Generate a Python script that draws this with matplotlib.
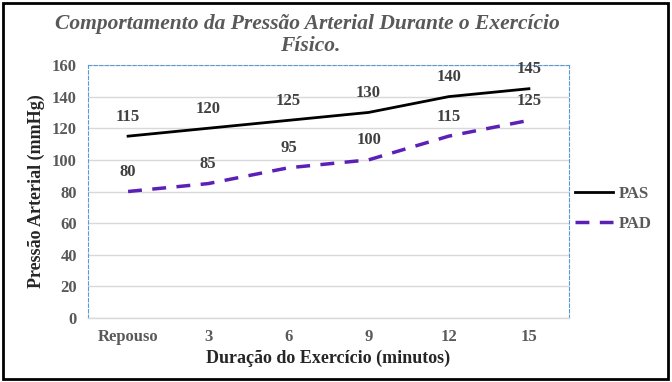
import matplotlib
matplotlib.use("Agg")
import matplotlib.pyplot as plt
from matplotlib.patches import Rectangle

categories = ["Repouso", "3", "6", "9", "12", "15"]
pas = [115, 120, 125, 130, 140, 145]
pad = [80, 85, 95, 100, 115, 125]
yticks = [0, 20, 40, 60, 80, 100, 120, 140, 160]

serif = ["Liberation Serif", "DejaVu Serif"]
plt.rcParams['font.family'] = serif

fig = plt.figure(figsize=(6.72, 3.82), dpi=100)
ax = fig.add_axes([88/672, 1-318/382, (569-88)/672, (318-65)/382])

x = list(range(len(categories)))
ax.plot(x, pas, color="black", lw=2, label="PAS", zorder=3)
ax.plot(x, pad, color="#5B21B6", lw=2.5, ls=(0, (4, 3)), label="PAD", zorder=3)

for xi, v in zip(x, pas):
    ax.annotate(str(v), (xi, v), xytext=(0, 14), textcoords="offset points",
                ha="center", va="center", fontsize=12, fontweight="bold", color="#404040")
for xi, v in zip(x, pad):
    ax.annotate(str(v), (xi, v), xytext=(0, 14), textcoords="offset points",
                ha="center", va="center", fontsize=12, fontweight="bold", color="#404040")

ax.set_xlim(-0.5, len(categories) - 0.5)
ax.set_ylim(0, 160)
ax.set_yticks(yticks)
ax.set_xticks(x)
ax.set_xticklabels(categories)
ax.grid(axis="y", color="#D9D9D9", lw=1)
ax.set_axisbelow(True)
ax.tick_params(length=0, labelsize=12, colors="#595959", pad=8)
for lab in ax.get_xticklabels() + ax.get_yticklabels():
    lab.set_fontweight("bold")

for side in ["top", "left", "right"]:
    ax.spines[side].set_color("#5B9BD5")
    ax.spines[side].set_linestyle((0, (3, 2)))
    ax.spines[side].set_linewidth(0.8)
ax.spines["bottom"].set_color("#D9D9D9")
ax.spines["bottom"].set_linewidth(1)

ax.set_xlabel("Duração do Exercício (minutos)", fontsize=13, fontweight="bold", color="#262626", labelpad=3)
ax.set_ylabel("Pressão Arterial (mmHg)", fontsize=13, fontweight="bold", color="#262626", labelpad=5)

fig.text(307/672, 1-24/382, "Comportamento da Pressão Arterial Durante o Exercício",
         ha="center", va="center", fontsize=15.5, fontstyle="italic", fontweight="bold", color="#595959")
fig.text(310/672, 1-46/382, "Físico.",
         ha="center", va="center", fontsize=15.5, fontstyle="italic", fontweight="bold", color="#595959")

leg = fig.legend(loc="center left", bbox_to_anchor=(575/672, 1-209/382), frameon=False,
                 prop={"weight": "bold", "size": 12}, handlelength=2.3, labelspacing=0.8,
                 handletextpad=0.35, borderpad=0, borderaxespad=0)
for t in leg.get_texts():
    t.set_color("#595959")

fig.patches.append(Rectangle((3/672, 3/382), 665/672, 376/382, transform=fig.transFigure,
                             fill=False, edgecolor="black", lw=2))

fig.savefig("out.png", dpi=100)
